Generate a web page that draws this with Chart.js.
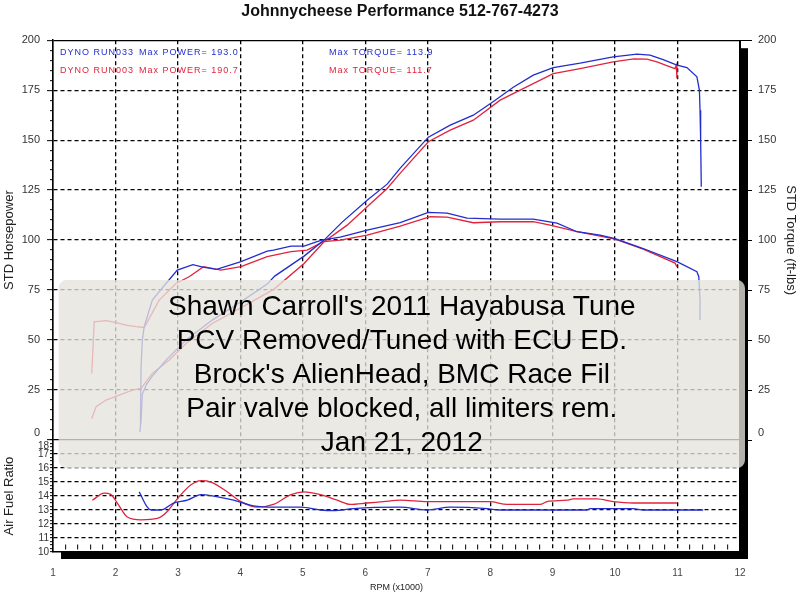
<!DOCTYPE html>
<html><head><meta charset="utf-8">
<script src="https://cdn.jsdelivr.net/npm/chart.js@4/dist/chart.umd.min.js"></script>
<style>html,body{margin:0;padding:0;background:#fff;}canvas{display:block;}</style>
</head><body>
<canvas id="c" width="800" height="600"></canvas>
<script>
// ---------- text ----------
const chartTitle = 'Johnnycheese Performance 512-767-4273';
const noteLines = ["Shawn Carroll's 2011 Hayabusa Tune", "PCV Removed/Tuned with ECU ED.", "Brock's AlienHead, BMC Race Fil", "Pair valve blocked, all limiters rem.", "Jan 21, 2012"];
const runLabels = ['DYNO RUN033', 'DYNO RUN003'];
const maxPower = ['193.0', '190.7'];
const maxTorque = ['113.9', '111.7'];
const hpTitle = 'STD Horsepower';
const tqTitle = 'STD Torque (ft-lbs)';
const afrTitle = 'Air Fuel Ratio';
const rpmTitle = 'RPM (x1000)';

// ---------- tick labels ----------
const rpmTickLabels = [1,2,3,4,5,6,7,8,9,10,11,12];
const powerTickLabels = [0,25,50,75,100,125,150,175,200];
const afrTickLabels = [10,11,12,13,14,15,16,17,18];

// ---------- series (RPM x1000 / value) ----------
const hp033Rpm = [2.39,2.41,2.43,2.50,2.59,2.81,3.13,3.55,4.00,4.43,4.55,5.02,5.34,5.63,6.03,6.35,6.56,7.01,7.36,7.73,8.08,8.37,8.69,9.01,9.44,9.97,10.35,10.56,10.77,10.99,11.15,11.31,11.35,11.36,11.37,11.38];
const hp033 =    [4,10,23,28,32,40,50,60,69,78,82,92,100,109,120,128,136,151.5,157.5,162.5,170,176.5,182.5,186.3,188.5,191.7,193.0,192.5,190.3,187.5,186.3,181.7,175,165,150,126.7];

const hp003Rpm = [1.62,1.69,1.85,2.06,2.27,2.41,2.59,2.86,3.13,3.55,4.00,4.54,5.02,5.34,5.71,6.03,6.35,6.56,7.01,7.36,7.73,8.16,8.48,9.01,9.44,9.97,10.30,10.51,10.67,10.88,10.96,10.98,10.99];
const hp003 =    [10.8,16.7,20,22.5,25,25.8,33.3,40,48.3,58.3,66,75.5,88.3,99.2,107.5,116.7,125.8,133.5,149.2,155,160,170,175,183.3,185.8,189.2,190.7,190.5,189.2,186.7,185.8,187.5,180.8];

const tq033Rpm = [2.40,2.41,2.43,2.46,2.59,2.81,2.99,3.24,3.40,3.62,4.01,4.43,4.53,4.81,5.02,5.30,5.60,6.03,6.56,7.01,7.31,7.63,8.16,8.69,9.07,9.39,9.76,10.00,10.45,10.99,11.31,11.34,11.36,11.36];
const tq033 =    [8.3,36.7,50,56.7,70,78.3,85,87.7,86.5,85.4,89.2,94.5,95,97,97,100,101.5,105,108.7,113.9,113.5,111,110.5,110.5,108.5,104.2,102.5,100.8,95.8,89.2,84.2,81.7,70,60];

const tq003Rpm = [1.62,1.66,1.69,1.85,2.01,2.17,2.33,2.46,2.70,2.97,3.18,3.41,3.69,4.01,4.43,4.81,5.07,5.33,5.60,6.03,6.56,7.04,7.31,7.73,8.16,8.69,8.96,9.39,9.76,10.00,10.45,10.96,10.99];
const tq003 =    [33.3,59.2,59.2,59.7,58.7,57.5,56.7,56.3,70,78.3,81.7,86.7,85,86.7,91.7,94.2,95,99.2,100,102.5,107,111.7,111.5,108.7,109.2,109.2,107.5,104.2,102,100.5,95.5,88.5,86.7];

const afr033Rpm = [2.38,2.51,2.57,2.73,2.93,3.15,3.37,3.57,3.89,4.21,4.53,4.96,5.28,5.49,5.81,6.56,6.99,7.36,7.95,8.16,9.55,9.60,10.29,10.45,11.41];
const afr033 =    [14.3,13.2,13.0,13.0,13.5,13.7,14.1,14.0,13.7,13.3,13.2,13.2,13.0,12.95,13.1,13.2,13.0,13.2,13.1,13.0,13.0,13.1,13.1,13.0,13.0];

const afr003Rpm = [1.63,1.82,1.93,2.03,2.19,2.41,2.67,2.83,2.99,3.21,3.37,3.53,3.79,4.01,4.27,4.53,4.81,5.02,5.28,5.55,5.76,6.03,6.29,6.56,6.99,8.00,8.27,8.80,8.91,9.23,9.33,9.71,9.97,10.29,10.99];
const afr003 =    [13.7,14.2,14.1,13.5,12.5,12.3,12.4,12.9,13.8,14.8,15.1,15.0,14.3,13.6,13.2,13.4,14.1,14.3,14.1,13.7,13.4,13.5,13.6,13.7,13.6,13.6,13.4,13.4,13.6,13.7,13.8,13.8,13.6,13.5,13.5];

// ---------- style ----------
const BLUE = 'rgb(35,45,205)';
const RED = 'rgb(225,35,60)';
const FONT = '"Liberation Sans", Arial, Helvetica, sans-serif';
Chart.defaults.font.family = FONT;
Chart.defaults.color = '#333';

const pts = (xs, ys) => xs.map((x, i) => ({x: x, y: ys[i]}));
const near = (v, list) => list.some(t => Math.abs(t - v) < 1e-6);
function steps(min, max, step) { const out = []; for (let v = min; v <= max + 1e-9; v += step) out.push(Math.round(v * 1000) / 1000); return out; }
const setTicks = vals => scale => { scale.ticks = vals.map(v => ({value: v})); };

const framePlugin = {
  id: 'frame',
  beforeDraw(chart) {
    const {ctx, chartArea: a} = chart;
    ctx.save();
    ctx.fillStyle = '#000';
    ctx.fillRect(a.left + 8, a.top + 8, a.right - a.left, a.bottom - a.top - 1);
    ctx.fillStyle = '#fff';
    ctx.fillRect(a.left, a.top, a.right - a.left, a.bottom - a.top);
    ctx.restore();
  },
  afterDatasetsDraw(chart) {
    const {ctx, chartArea: a, scales} = chart;
    ctx.save();
    // run legend
    ctx.font = '9px ' + FONT;
    if ('letterSpacing' in ctx) ctx.letterSpacing = '1px';
    ctx.textBaseline = 'middle';
    ctx.textAlign = 'left';
    [[BLUE, 0, 12.5], [RED, 1, 30]].forEach(([col, i, dy]) => {
      ctx.fillStyle = col;
      ctx.fillText(runLabels[i], a.left + 7, a.top + dy);
      ctx.fillText('Max POWER= ' + maxPower[i], a.left + 86, a.top + dy);
      ctx.fillText('Max TORQUE= ' + maxTorque[i], a.left + 276, a.top + dy);
    });
    if ('letterSpacing' in ctx) ctx.letterSpacing = '0px';
    // note box
    const x0 = scales.x.getPixelForValue(1.09), x1 = scales.x.getPixelForValue(12.08);
    const y0 = scales.y.getPixelForValue(80), y1 = scales.yA.getPixelForValue(16);
    ctx.fillStyle = 'rgba(230,227,221,0.78)';
    ctx.beginPath();
    ctx.roundRect(x0, y0, x1 - x0, y1 - y0, 8);
    ctx.fill();
    ctx.fillStyle = '#000';
    ctx.font = '28px ' + FONT;
    ctx.textAlign = 'center';
    ctx.textBaseline = 'alphabetic';
    const cx = (x0 + x1) / 2;
    noteLines.forEach((t, i) => ctx.fillText(t, cx, y0 + 35 + i * 34));
    ctx.restore();
  }
};

const dash = [4, 3];
const lineDs = (label, data, color, axis, extra) => Object.assign({
  label, data, borderColor: color, backgroundColor: color, borderWidth: 1.3,
  pointRadius: 0, fill: false, yAxisID: axis, tension: 0
}, extra || {});

// "0" sits a little above its tick, "18" a little below (as in the original)
const powerLabel = v => near(v, powerTickLabels) ? (v === 0 ? ['0', ''] : String(v)) : '';

new Chart(document.getElementById('c'), {
  type: 'line',
  data: {
    datasets: [
      lineDs('HP 033', pts(hp033Rpm, hp033), BLUE, 'y'),
      lineDs('TQ 033', pts(tq033Rpm, tq033), BLUE, 'yT'),
      lineDs('AFR 033', pts(afr033Rpm, afr033), BLUE, 'yA', {cubicInterpolationMode: 'monotone'}),
      lineDs('HP 003', pts(hp003Rpm, hp003), RED, 'y'),
      lineDs('TQ 003', pts(tq003Rpm, tq003), RED, 'yT'),
      lineDs('AFR 003', pts(afr003Rpm, afr003), RED, 'yA', {cubicInterpolationMode: 'monotone'})
    ]
  },
  options: {
    responsive: false,
    animation: false,
    layout: {padding: 0},
    plugins: {
      legend: {display: false},
      tooltip: {enabled: false},
      title: {display: true, text: chartTitle, color: '#111', font: {size: 16, weight: 'bold', family: FONT}, padding: {top: 2, bottom: 19}}
    },
    scales: {
      x: {
        type: 'linear', position: 'bottom', min: 1, max: 12,
        afterBuildTicks: setTicks(steps(1, 12, 0.2)),
        afterFit: s => { s.height = 48; },
        ticks: {autoSkip: false, maxRotation: 0, minRotation: 0, padding: 23, color: '#444', font: {size: 10},
          callback: v => near(v, rpmTickLabels) ? String(Math.round(v)) : ''},
        grid: {
          lineWidth: 1.3,
          color: c => near(c.tick.value, rpmTickLabels) ? '#000' : 'rgba(0,0,0,0)',
          tickLength: -8, tickWidth: 1,
          tickColor: c => near(c.tick.value, rpmTickLabels) ? 'rgba(0,0,0,0)' : '#000',
          tickBorderDash: [0, 3, 5, 100]
        },
        border: {display: true, color: '#000', width: 1.5,
          dash: c => (c.tick && (near(c.tick.value, [1, 12]))) ? [] : dash},
        title: {display: true, text: rpmTitle, color: '#222', font: {size: 9}, padding: {top: 2, bottom: 6.6}}
      },
      y: {
        type: 'linear', position: 'left', stack: 'L', stackWeight: 400, weight: 1,
        min: 0, max: 200,
        afterBuildTicks: setTicks(steps(0, 200, 5)),
        afterFit: s => { s.width = 53; },
        ticks: {autoSkip: false, padding: 7, color: '#333', font: {size: 11}, callback: powerLabel},
        grid: {
          lineWidth: 1.3,
          color: c => near(c.tick.value, powerTickLabels) ? '#000' : 'rgba(0,0,0,0)',
          tickLength: 6, tickWidth: 1, tickColor: '#000',
          tickBorderDash: c => near(c.tick.value, powerTickLabels) ? [] : [0, 3, 3, 100]
        },
        border: {display: true, color: '#000', width: 1.5,
          dash: c => (c.tick && near(c.tick.value, [0, 200])) ? [] : dash},
        title: {display: true, text: hpTitle, color: '#222', font: {size: 13}, padding: {top: 2, bottom: 0}}
      },
      yA: {
        type: 'linear', position: 'left', stack: 'L', stackWeight: 112, weight: 0,
        min: 10, max: 18,
        afterBuildTicks: setTicks(steps(10, 18, 0.25)),
        afterFit: s => { s.width = 53; },
        ticks: {autoSkip: false, padding: 1, color: '#333', font: {size: 10},
          callback: v => near(v, afrTickLabels) ? (v === 18 ? ['', '18'] : String(v)) : ''},
        grid: {
          lineWidth: 1.3,
          color: c => near(c.tick.value, [11, 12, 13, 14, 15, 16, 17]) ? '#000' : 'rgba(0,0,0,0)',
          tickLength: 3, tickWidth: 1, tickColor: '#000'
        },
        border: {display: true, color: '#000', width: 1.5, dash: dash},
        title: {display: true, text: afrTitle, color: '#222', font: {size: 13}, padding: {top: 2, bottom: 0}}
      },
      yT: {
        type: 'linear', position: 'right', stack: 'R', stackWeight: 400, weight: 0,
        min: 0, max: 200,
        afterBuildTicks: setTicks(steps(0, 200, 5)),
        afterFit: s => { s.width = 60; },
        ticks: {autoSkip: false, padding: 6, color: '#333', font: {size: 11}, callback: powerLabel},
        grid: {
          drawOnChartArea: false,
          tickLength: 12, tickWidth: 1,
          tickColor: c => near(c.tick.value, powerTickLabels) ? '#000' : 'rgba(0,0,0,0)'
        },
        border: {display: true, color: '#000', width: 1},
        title: {display: true, text: tqTitle, color: '#222', font: {size: 13}, padding: {top: 2, bottom: 0}}
      },
      yR2: {
        type: 'linear', position: 'right', stack: 'R', stackWeight: 112, weight: 1,
        min: 0, max: 1,
        afterFit: s => { s.width = 60; },
        ticks: {display: false},
        grid: {drawOnChartArea: false, drawTicks: false},
        border: {display: true, color: '#000', width: 1}
      }
    }
  },
  plugins: [framePlugin]
});
</script>
</body></html>
